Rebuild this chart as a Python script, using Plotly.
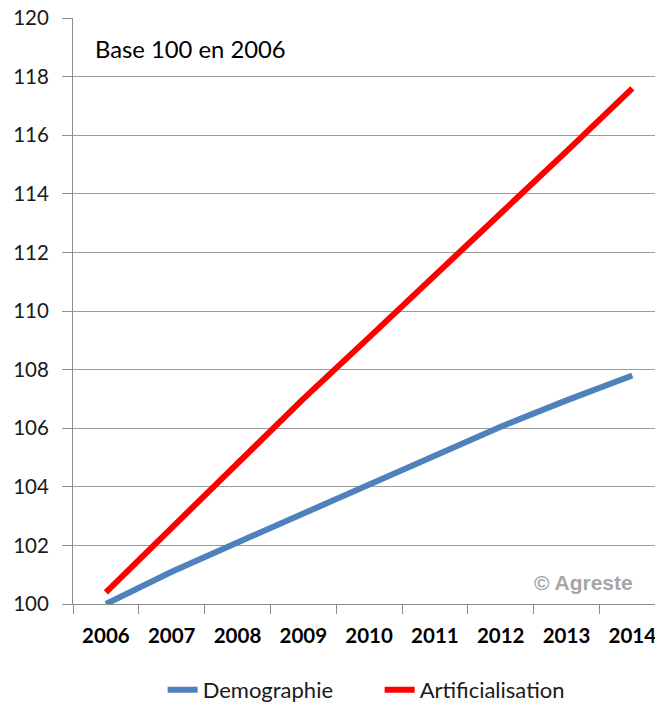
import plotly.graph_objects as go

# values (base 100 in 2006)
years = ["2006", "2007", "2008", "2009", "2010", "2011", "2012", "2013", "2014"]
demographie = [100.0, 101.1, 102.1, 103.1, 104.1, 105.1, 106.05, 106.95, 107.8]
artificialisation = [100.4, 102.6, 104.8, 107.0, 109.1, 111.2, 113.35, 115.45, 117.6]

y_ticks = list(range(100, 121, 2))

fig = go.Figure()

fig.add_trace(
    go.Scatter(
        x=years,
        y=demographie,
        mode='lines',
        name='Demographie',
        line=dict(color='#4F81BD', width=6),
    )
)

fig.add_trace(
    go.Scatter(
        x=years,
        y=artificialisation,
        mode='lines',
        name='Artificialisation',
        line=dict(color='#FF0000', width=6),
    )
)

fig.update_layout(
    width=655,
    height=711,
    margin=dict(l=73, r=0, t=18, b=100),
    paper_bgcolor='white',
    plot_bgcolor='white',
    font=dict(family='Lato, Carlito, sans-serif', color='black'),
    showlegend=True,
    legend=dict(
        orientation='h',
        xanchor='left', x=0.154,
        yanchor='middle', y=-0.1467,
        entrywidth=172,
        font=dict(family='Lato', size=22, color='#1a1a1a'),
        bgcolor='rgba(0,0,0,0)',
    ),
    xaxis=dict(
        type='category',
        range=[-0.5, 8.345],
        automargin=False,
        tickson='boundaries',
        ticks='outside',
        ticklen=9,
        tickcolor='#8c8c8c',
        showline=True,
        linecolor='#8c8c8c',
        linewidth=1,
        showgrid=False,
        ticklabelstandoff=13,
        tickfont=dict(family='Lato', size=20.5, weight='bold', color='black'),
        fixedrange=True,
    ),
    yaxis=dict(
        range=[100, 120],
        automargin=False,
        tickvals=y_ticks,
        ticks='outside',
        ticklen=10,
        tickcolor='#8c8c8c',
        showline=True,
        linecolor='#8c8c8c',
        linewidth=1,
        showgrid=True,
        gridcolor='#9c9c9c',
        gridwidth=1,
        zeroline=False,
        ticklabelstandoff=9,
        ticklabeloverflow='allow',
        tickfont=dict(family='Lato', size=20.5, color='#1a1a1a'),
        fixedrange=True,
    ),
)

fig.add_annotation(
    text='Base 100 en 2006',
    xref='paper', yref='paper',
    x=0.034, y=0.9467,
    xanchor='left', yanchor='middle',
    showarrow=False,
    font=dict(family='Lato', size=23.8, color='black'),
)

fig.add_annotation(
    text='© Agreste',
    xref='paper', yref='paper',
    x=0.965, y=0.0367,
    xanchor='right', yanchor='middle',
    showarrow=False,
    font=dict(family='Liberation Sans', size=21, weight='bold', color='#a6a6a6'),
)

# drop the default 8px body margin so the figure sits at the window's corner
fig.write_html(
    "out.html",
    config={'displayModeBar': False},
    post_script=(
        "document.body.style.margin = '0';"
        "document.body.style.overflow = 'hidden';"
    ),
)
